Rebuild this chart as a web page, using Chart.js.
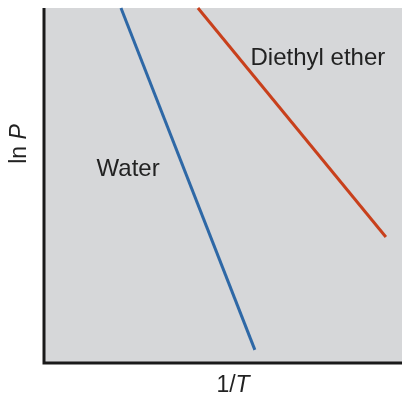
<!DOCTYPE html>
<html>
<head>
<meta charset="utf-8">
<script src="https://cdn.jsdelivr.net/npm/chart.js@4"></script>
<style>
  body { margin: 0; background: #fff; }
  #wrap { width: 402px; height: 397px; }
</style>
</head>
<body>
<div id="wrap"><canvas id="myChart"></canvas></div>
<script>
// endpoints of each line in arbitrary units (x = 1/T, y = ln P)
const waterX = [21.5, 58.9];
const waterY = [100, 3.7];
const etherX = [43.0, 95.5];
const etherY = [100, 35.5];

const seriesLabels = ['Water', 'Diethyl ether'];
const labelPos = [[23.5, 54.6], [76.5, 85.9]];

const toPoints = (xs, ys) => xs.map((x, i) => ({x: x, y: ys[i]}));

const drawExtras = {
  id: 'extras',
  beforeDraw(chart) {
    const {ctx, chartArea: a} = chart;
    ctx.save();
    ctx.fillStyle = '#d6d7d9';
    ctx.fillRect(a.left, a.top, a.right - a.left, a.bottom - a.top);
    ctx.restore();
  },
  afterDraw(chart) {
    const {ctx, chartArea: a, scales} = chart;
    ctx.save();
    // axes
    ctx.strokeStyle = '#1a1a1a';
    ctx.lineWidth = 3;
    ctx.beginPath();
    ctx.moveTo(a.left, a.top);
    ctx.lineTo(a.left, a.bottom);
    ctx.lineTo(a.right, a.bottom);
    ctx.stroke();

    // series labels
    ctx.fillStyle = '#222';
    ctx.font = '24px "Liberation Sans", Arial, sans-serif';
    ctx.textAlign = 'center';
    ctx.textBaseline = 'middle';
    seriesLabels.forEach((t, i) => {
      ctx.fillText(t, scales.x.getPixelForValue(labelPos[i][0]), scales.y.getPixelForValue(labelPos[i][1]));
    });

    // x axis title: 1/T
    const up = '23px "Liberation Sans", Arial, sans-serif';
    const it = 'italic 23px "Liberation Sans", Arial, sans-serif';
    ctx.textAlign = 'left';
    ctx.font = up;
    const w1 = ctx.measureText('1/').width;
    ctx.font = it;
    const w2 = ctx.measureText('T').width;
    let x0 = 233 - (w1 + w2) / 2;
    ctx.font = up;
    ctx.fillText('1/', x0, 386);
    ctx.font = it;
    ctx.fillText('T', x0 + w1, 386);

    // y axis title: ln P
    ctx.translate(20, 144);
    ctx.rotate(-Math.PI / 2);
    ctx.font = up;
    const w3 = ctx.measureText('ln ').width;
    ctx.font = it;
    const w4 = ctx.measureText('P').width;
    x0 = -(w3 + w4) / 2;
    ctx.font = up;
    ctx.fillText('ln ', x0, 0);
    ctx.font = it;
    ctx.fillText('P', x0 + w3, 0);
    ctx.restore();
  }
};

const config = {
  type: 'line',
  data: {
    datasets: [{
      label: seriesLabels[0],
      data: toPoints(waterX, waterY),
      borderColor: '#2e68a6',
      borderWidth: 3,
      pointRadius: 0,
      clip: false
    }, {
      label: seriesLabels[1],
      data: toPoints(etherX, etherY),
      borderColor: '#c8401c',
      borderWidth: 3,
      pointRadius: 0,
      clip: false
    }]
  },
  options: {
    responsive: true,
    maintainAspectRatio: false,
    animation: false,
    layout: {
      padding: {left: 44, top: 8, right: 0, bottom: 34}
    },
    scales: {
      x: {type: 'linear', min: 0, max: 100, display: false},
      y: {type: 'linear', min: 0, max: 100, display: false}
    },
    plugins: {
      legend: {display: false},
      tooltip: {enabled: false}
    }
  },
  plugins: [drawExtras]
};

const myChart = new Chart(
  document.getElementById('myChart'),
  config
);
</script>
</body>
</html>
